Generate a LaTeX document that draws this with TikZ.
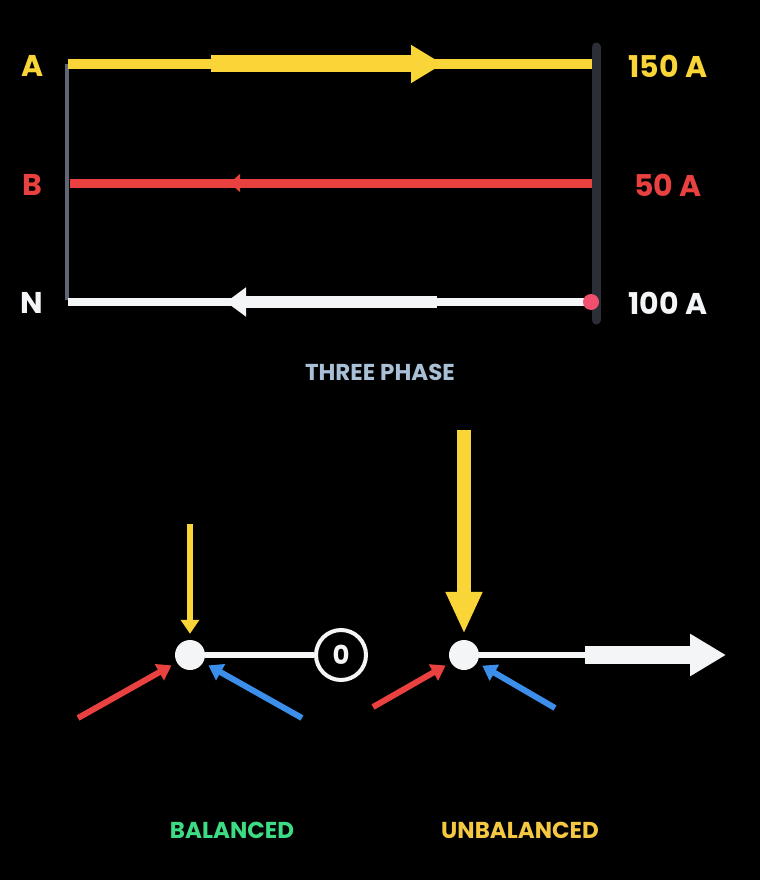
\documentclass[tikz,border=0pt]{standalone}
\usepackage{fontspec}
\setmainfont{Poppins}
\usetikzlibrary{arrows.meta}
\definecolor{yel}{HTML}{F9D537}
\definecolor{rd}{HTML}{E8413F}
\definecolor{wh}{HTML}{F4F5F7}
\definecolor{bl}{HTML}{3B8EEA}
\definecolor{gr}{HTML}{5F6775}
\definecolor{bar}{HTML}{2B2E36}
\definecolor{pk}{HTML}{F0506E}
\definecolor{ttl}{HTML}{A9BFD6}
\definecolor{grn}{HTML}{3DDC84}
\definecolor{ubl}{HTML}{F5C842}
\begin{document}
\begin{tikzpicture}[x=1pt,y=-1pt,
 lbl/.style={font=\fontsize{30}{30}\selectfont\bfseries},
 captxt/.style={font=\fontsize{23}{23}\selectfont\bfseries},
 dot/.style={circle,fill=wh,minimum size=30pt,inner sep=0pt},
 sarr/.style={line width=6pt,shorten >=6pt,-{Triangle[length=14pt,width=18pt]}}]
\fill[black] (0,0) rectangle (760,880);
\useasboundingbox (0,0) rectangle (760,880);
% wires
\draw[gr,line width=4pt] (67,64) -- (67,300);
\draw[yel,line width=10pt] (68,64) -- (592,64);
\draw[yel,line width=17pt,-{Triangle[length=32pt,width=36pt]}] (211,64) -- (443,64);
\draw[rd,line width=9pt] (70,183) -- (592,183);
\draw[rd,line width=1pt,-{Triangle[length=10pt,width=18pt]}] (260,183) -- (230,183);
\draw[wh,line width=8pt] (68,302) -- (590,302);
\draw[wh,line width=12pt,-{Triangle[length=20pt,width=28pt]}] (437,302) -- (226,302);
\draw[bar,line width=9pt,line cap=round] (596,47) -- (596,320);
\fill[pk] (591,302) circle (8);
\node[lbl,text=yel] (la) at (33,66) {A};
\node[lbl,text=rd] (lb) at (32,185) {B};
\node[lbl,text=wh] (ln) at (32,303) {N};
\node[lbl,text=yel] (va) at (668,66) {150 A};
\node[lbl,text=rd] (vb) at (668,185) {50 A};
\node[lbl,text=wh] (vn) at (668,303) {100 A};
\node[captxt,text=ttl] (t) at (380,372) {THREE PHASE};
% balanced
\node[dot] (n1) at (190,655) {};
\node[circle,draw=wh,line width=4pt,minimum size=50pt,inner sep=0pt,text=wh,font=\fontsize{26}{26}\selectfont\bfseries] (z) at (341,655) {0};
\draw[wh,line width=6pt] (n1) -- (z);
\coordinate (y1) at (190,524);
\draw[yel,sarr] (y1) -- (n1);
\coordinate (r1) at (78,718);
\draw[rd,sarr] (r1) -- (n1);
\coordinate (b1) at (302,718);
\draw[bl,sarr] (b1) -- (n1);
% unbalanced
\node[dot] (n2) at (464,655) {};
\coordinate (y2) at (464,430);
\draw[yel,line width=14pt,shorten >=6pt,-{Triangle[length=42pt,width=34pt]}] (y2) -- (n2);
\coordinate (r2) at (373,707);
\draw[rd,sarr] (r2) -- (n2);
\coordinate (b2) at (555,708);
\draw[bl,sarr] (b2) -- (n2);
\coordinate (w1) at (585,655);
\coordinate (w2) at (726,655);
\draw[wh,line width=6pt] (n2) -- (w1);
\draw[wh,line width=18pt,-{Triangle[length=36pt,width=40pt]}] (w1) -- (w2);
\node[captxt,text=grn] (bal) at (232,830) {BALANCED};
\node[captxt,text=ubl] (ubal) at (520,830) {UNBALANCED};
\end{tikzpicture}
\end{document}
